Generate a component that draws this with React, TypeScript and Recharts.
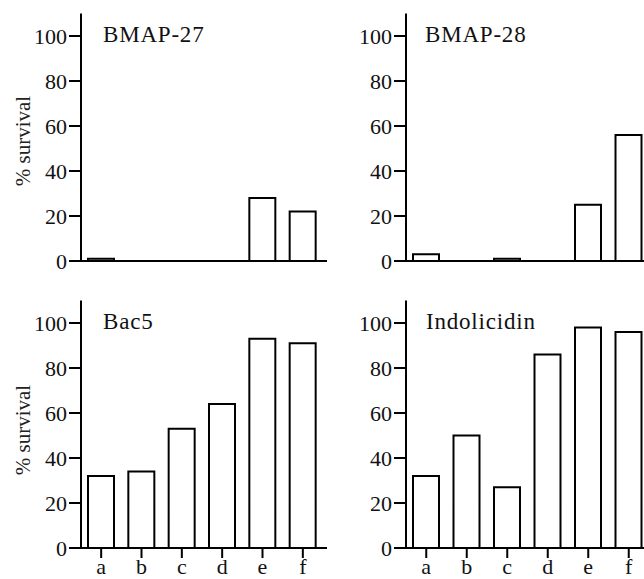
import React from 'react';
import { BarChart, Bar, XAxis, YAxis } from 'recharts';

const categories = ['a', 'b', 'c', 'd', 'e', 'f'];
const bmap27 = [1, 0, 0, 0, 28, 22];
const bmap28 = [3, 0, 1, 0, 25, 56];
const bac5 = [32, 34, 53, 64, 93, 91];
const indolicidin = [32, 50, 27, 86, 98, 96];
const yTicks = [0, 20, 40, 60, 80, 100];
const titles = ['BMAP-27', 'BMAP-28', 'Bac5', 'Indolicidin'];
const yLabel = '% survival';

const FONT = 'Liberation Serif, Times New Roman, serif';

type PanelProps = {
  values: number[];
  left: number;
  top: number;
  height: number;
  marginTop: number;
  yAxisWidth: number;
  xAxisHeight: number;
  padRight: number;
  showXTicks: boolean;
};

const XTick = (props: any) => {
  const { x, y, payload } = props;
  return (
    <text x={x} y={y} dy={14} textAnchor="middle" fontFamily={FONT} fontSize={22} fill="#111">
      {payload.value}
    </text>
  );
};

const YTick = (props: any) => {
  const { x, y, payload } = props;
  return (
    <text x={x} y={y} dy={7.5} textAnchor="end" fontFamily={FONT} fontSize={22} fill="#111">
      {payload.value}
    </text>
  );
};

function Panel(p: PanelProps) {
  const data = categories.map((c, i) => ({ cat: c, v: p.values[i] }));
  return (
    <div style={{ position: 'absolute', left: p.left, top: p.top }}>
      <BarChart
        width={330}
        height={p.height}
        data={data}
        margin={{ top: p.marginTop, right: 3, left: 0, bottom: 0 }}
        barSize={26}
      >
        <XAxis
          dataKey="cat"
          height={p.xAxisHeight}
          padding={{ left: 0, right: p.padRight }}
          axisLine={{ stroke: '#000', strokeWidth: 2 }}
          tickLine={p.showXTicks ? { stroke: '#000', strokeWidth: 2 } : false}
          tickSize={10}
          tick={p.showXTicks ? <XTick /> : false}
          interval={0}
        />
        <YAxis
          width={p.yAxisWidth}
          domain={[0, 110]}
          ticks={yTicks}
          allowDataOverflow
          axisLine={{ stroke: '#000', strokeWidth: 2 }}
          tickLine={{ stroke: '#000', strokeWidth: 2 }}
          tickSize={12}
          tickMargin={2}
          tick={<YTick />}
        />
        <Bar dataKey="v" fill="#fff" stroke="#000" strokeWidth={2} isAnimationActive={false} />
      </BarChart>
    </div>
  );
}

export default function App() {
  return (
    <div
      style={{
        position: 'fixed',
        left: 0,
        top: 0,
        width: 644,
        height: 579,
        overflow: 'hidden',
        background: '#fff',
      }}
    >
      <Panel values={bmap27} left={0} top={0} height={290} marginTop={13.5} yAxisWidth={81} xAxisHeight={29} padRight={4} showXTicks={false} />
      <Panel values={bmap28} left={330} top={0} height={290} marginTop={13.5} yAxisWidth={76} xAxisHeight={29} padRight={8} showXTicks={false} />
      <Panel values={bac5} left={0} top={290} height={300} marginTop={10.5} yAxisWidth={81} xAxisHeight={42} padRight={4} showXTicks={true} />
      <Panel values={indolicidin} left={330} top={290} height={300} marginTop={10.5} yAxisWidth={76} xAxisHeight={42} padRight={8} showXTicks={true} />
      <svg
        width={644}
        height={579}
        style={{ position: 'absolute', left: 0, top: 0, pointerEvents: 'none' }}
      >
        <text x={103} y={42} fontFamily={FONT} fontSize={23} letterSpacing={0.8} fill="#111">{titles[0]}</text>
        <text x={425} y={42} fontFamily={FONT} fontSize={23} letterSpacing={0.8} fill="#111">{titles[1]}</text>
        <text x={103} y={329} fontFamily={FONT} fontSize={23} letterSpacing={0.8} fill="#111">{titles[2]}</text>
        <text x={426} y={329} fontFamily={FONT} fontSize={23} letterSpacing={0.8} fill="#111">{titles[3]}</text>
        <text x={30} y={141} textAnchor="middle" transform="rotate(-90 30 141)" fontFamily={FONT} fontSize={21} fill="#222">{yLabel}</text>
        <text x={30} y={430} textAnchor="middle" transform="rotate(-90 30 430)" fontFamily={FONT} fontSize={21} fill="#222">{yLabel}</text>
      </svg>
    </div>
  );
}
